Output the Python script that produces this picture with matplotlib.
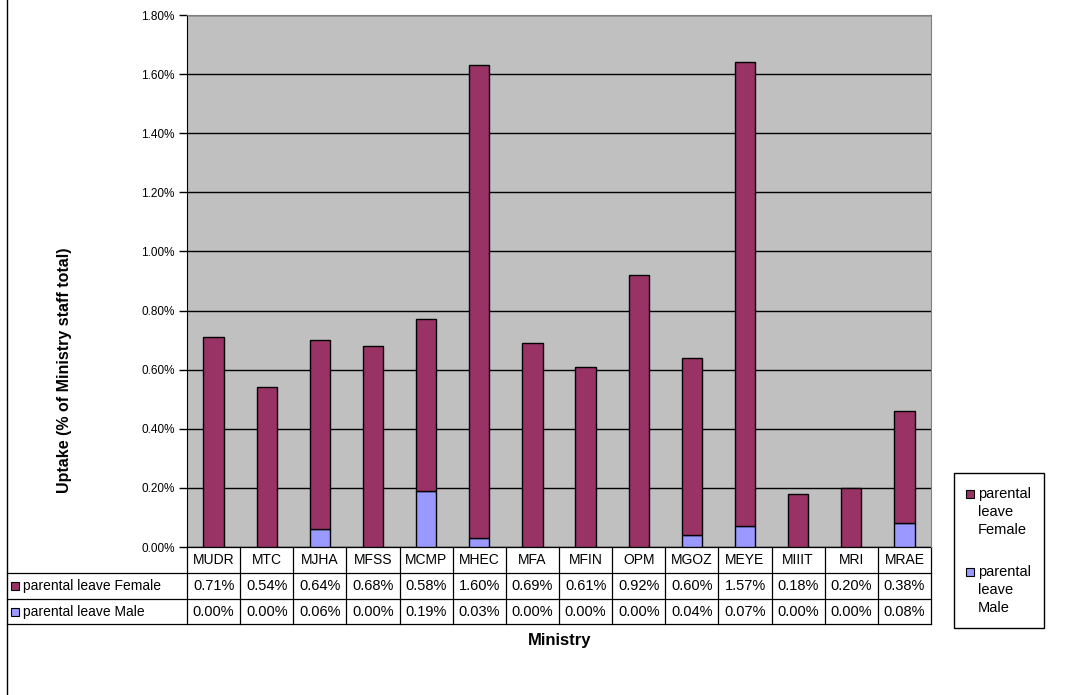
import matplotlib.pyplot as plt
import matplotlib.transforms as mtransforms
from matplotlib.patches import Rectangle
from matplotlib.lines import Line2D
from matplotlib.ticker import FuncFormatter, MultipleLocator

ministries = ['MUDR', 'MTC', 'MJHA', 'MFSS', 'MCMP', 'MHEC', 'MFA', 'MFIN',
              'OPM', 'MGOZ', 'MEYE', 'MIIIT', 'MRI', 'MRAE']
female = [0.71, 0.54, 0.64, 0.68, 0.58, 1.60, 0.69, 0.61, 0.92, 0.60, 1.57, 0.18, 0.20, 0.38]
male = [0.00, 0.00, 0.06, 0.00, 0.19, 0.03, 0.00, 0.00, 0.00, 0.04, 0.07, 0.00, 0.00, 0.08]
series_names = ['parental leave Female', 'parental leave Male']

FEMALE_COLOR = '#993366'
MALE_COLOR = '#9999FF'
W, H = 1079, 695

plt.rcParams['font.family'] = ['Liberation Sans', 'DejaVu Sans']


def fx(px):
    return px / W


def fy(py):
    return 1 - py / H


def main():
    fig = plt.figure(figsize=(W / 100, H / 100), dpi=100)
    left, right, top, bottom = 187, 931, 15, 547
    ax = fig.add_axes([fx(left), fy(bottom), fx(right - left), (bottom - top) / H])
    ax.set_facecolor('#C0C0C0')

    x = list(range(len(ministries)))
    ax.bar(x, male, width=0.38, color=MALE_COLOR, edgecolor='black', linewidth=1, zorder=3)
    ax.bar(x, female, width=0.38, bottom=male, color=FEMALE_COLOR, edgecolor='black',
           linewidth=1, zorder=3)

    ax.set_xlim(-0.5, len(ministries) - 0.5)
    ax.set_ylim(0, 1.8)
    ax.yaxis.set_major_locator(MultipleLocator(0.2))
    ax.yaxis.set_major_formatter(FuncFormatter(lambda v, p: f'{v:.2f}%'))
    ax.tick_params(axis='y', labelsize=8.5, length=6, width=1, pad=3)
    ax.set_xticks([])
    ax.grid(axis='y', color='black', linewidth=1, zorder=1)
    for side in ['top', 'right']:
        ax.spines[side].set_color('#808080')
    ax.spines['bottom'].set_visible(False)
    ax.spines['left'].set_color('black')

    fig.text(fx(65), fy(370), 'Uptake (% of Ministry staff total)', rotation=90,
             ha='center', va='center', fontsize=11.5, fontweight='bold')

    # data table under the plot
    trans = mtransforms.blended_transform_factory(ax.transData, fig.transFigure)
    rows_y = [547, 573, 599, 624]
    n = len(ministries)
    lw = 0.9
    ax.add_line(Line2D([-0.5, n - 0.5], [fy(rows_y[0])] * 2, transform=trans, color='black',
                       lw=lw, clip_on=False))
    for py in rows_y[1:]:
        fig.add_artist(Line2D([fx(7), fx(right)], [fy(py)] * 2, color='black', lw=lw))
    for i in range(n + 1):
        ax.add_line(Line2D([i - 0.5] * 2, [fy(rows_y[0]), fy(rows_y[-1])], transform=trans,
                           color='black', lw=lw, clip_on=False))
    for i, name in enumerate(ministries):
        ax.text(i, fy(560), name, transform=trans, ha='center', va='center', fontsize=10)
        ax.text(i, fy(586), f'{female[i]:.2f}%', transform=trans, ha='center', va='center',
                fontsize=10.5)
        ax.text(i, fy(612), f'{male[i]:.2f}%', transform=trans, ha='center', va='center',
                fontsize=10.5)
    for py, name, col in [(586, series_names[0], FEMALE_COLOR), (612, series_names[1], MALE_COLOR)]:
        fig.add_artist(Rectangle((fx(11), fy(py + 4)), fx(8), 8 / H, facecolor=col,
                                 edgecolor='black', lw=0.8))
        fig.text(fx(23), fy(py), name, ha='left', va='center', fontsize=10)

    # outer chart border (left edge visible)
    fig.add_artist(Line2D([fx(7), fx(7)], [0, 1], color='black', lw=1))

    fig.text(fx(560), fy(640), 'Ministry', ha='center', va='center', fontsize=12,
             fontweight='bold')

    # legend box drawn by hand, one word per line
    fig.add_artist(Rectangle((fx(954), fy(628)), fx(90), 155 / H, facecolor='white',
                             edgecolor='black', lw=1))
    for top_y, name, col in [(494, series_names[0], FEMALE_COLOR),
                             (572, series_names[1], MALE_COLOR)]:
        fig.add_artist(Rectangle((fx(966), fy(top_y + 4)), fx(8), 8 / H, facecolor=col,
                                 edgecolor='black', lw=0.8))
        for k, word in enumerate(name.split()):
            fig.text(fx(978), fy(top_y + 18 * k), word, ha='left', va='center', fontsize=10.5)

    plt.savefig('out.png', dpi=100)


if __name__ == '__main__':
    main()
